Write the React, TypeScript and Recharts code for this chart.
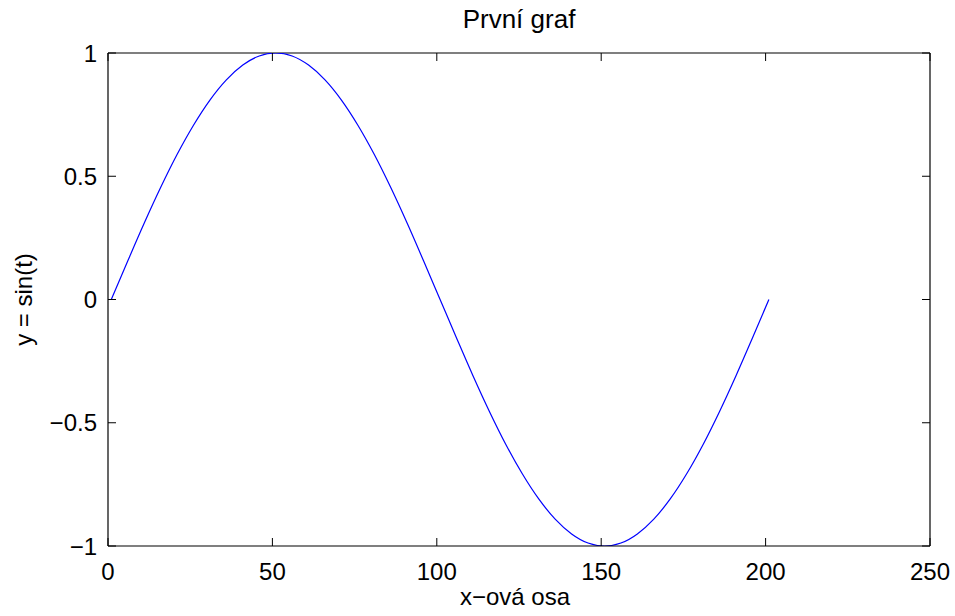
import React from 'react';
import { LineChart, Line, XAxis, YAxis, ReferenceLine } from 'recharts';

// Samples of y = sin(t) taken every 5th index (index 1 … 201)
const indices: number[] = [
  1, 6, 11, 16, 21, 26, 31, 36, 41, 46,
  51, 56, 61, 66, 71, 76, 81, 86, 91, 96,
  101, 106, 111, 116, 121, 126, 131, 136, 141, 146,
  151, 156, 161, 166, 171, 176, 181, 186, 191, 196, 201,
];
const values: number[] = [
  0, 0.156, 0.309, 0.454, 0.588, 0.707, 0.809, 0.891, 0.951, 0.988,
  1, 0.988, 0.951, 0.891, 0.809, 0.707, 0.588, 0.454, 0.309, 0.156,
  0, -0.156, -0.309, -0.454, -0.588, -0.707, -0.809, -0.891, -0.951, -0.988,
  -1, -0.988, -0.951, -0.891, -0.809, -0.707, -0.588, -0.454, -0.309, -0.156, 0,
];

const xTicks: number[] = [0, 50, 100, 150, 200, 250];
const yTicks: number[] = [-1, -0.5, 0, 0.5, 1];
const xDomain: [number, number] = [0, 250];
const yDomain: [number, number] = [-1, 1];

const titleText = 'První graf';
const xLabelText = 'x−ová osa';
const yLabelText = 'y = sin(t)';

const data = indices.map((x, i) => ({ x, y: values[i] }));

// Layout of the plotting box
const W = 955;
const H = 616;
const PLOT = { left: 108, top: 53, right: 930, bottom: 546 };
const Y_AXIS_W = 60;
const X_AXIS_H = 60;
const TICK_LEN = 8;

const FONT = '"Liberation Sans", Arial, Helvetica, sans-serif';
const FONT_SIZE = 24;
const TITLE_SIZE = 26;

const fmt = (v: number) => (v < 0 ? '\u2212' + String(Math.abs(v)) : String(v));

// Bottom tick: label below the box, inward tick marks on bottom and top edges
const XTick = (props: any) => {
  const { x, payload } = props;
  return (
    <g>
      <line x1={x} y1={PLOT.bottom} x2={x} y2={PLOT.bottom - TICK_LEN} stroke="#000" strokeWidth={1} />
      <line x1={x} y1={PLOT.top} x2={x} y2={PLOT.top + TICK_LEN} stroke="#000" strokeWidth={1} />
      <text
        x={x}
        y={PLOT.bottom + 34}
        textAnchor="middle"
        fill="#000"
        fontSize={FONT_SIZE}
        fontFamily={FONT}
      >
        {fmt(payload.value)}
      </text>
    </g>
  );
};

// Left tick: label left of the box, inward tick marks on left and right edges
const YTick = (props: any) => {
  const { y, payload } = props;
  return (
    <g>
      <line x1={PLOT.left} y1={y} x2={PLOT.left + TICK_LEN} y2={y} stroke="#000" strokeWidth={1} />
      <line x1={PLOT.right} y1={y} x2={PLOT.right - TICK_LEN} y2={y} stroke="#000" strokeWidth={1} />
      <text
        x={PLOT.left - 11}
        y={y}
        dy="0.355em"
        textAnchor="end"
        fill="#000"
        fontSize={FONT_SIZE}
        fontFamily={FONT}
      >
        {fmt(payload.value)}
      </text>
    </g>
  );
};

// Axis title below the x axis plus the chart title above the box
const XLabel = (props: any) => {
  const vb = props.viewBox || {};
  const cx = vb.x + vb.width / 2;
  return (
    <g>
      <text x={cx - 4} y={PLOT.bottom + 59} textAnchor="middle" fill="#000" fontSize={FONT_SIZE} fontFamily={FONT}>
        {xLabelText}
      </text>
      <text x={cx} y={PLOT.top - 25} textAnchor="middle" fill="#000" fontSize={TITLE_SIZE} fontFamily={FONT}>
        {titleText}
      </text>
    </g>
  );
};

const YLabel = (props: any) => {
  const vb = props.viewBox || {};
  const cx = 32;
  const cy = vb.y + vb.height / 2;
  return (
    <text
      x={cx}
      y={cy}
      transform={`rotate(-90 ${cx} ${cy})`}
      textAnchor="middle"
      fill="#000"
      fontSize={FONT_SIZE}
      fontFamily={FONT}
    >
      {yLabelText}
    </text>
  );
};

export default function App() {
  return (
    <div style={{ position: 'absolute', left: 0, top: 0, background: '#fff' }}>
      <LineChart
        width={W}
        height={H}
        data={data}
        margin={{
          top: PLOT.top,
          right: W - PLOT.right,
          bottom: H - PLOT.bottom - X_AXIS_H,
          left: PLOT.left - Y_AXIS_W,
        }}
      >
        <XAxis
          dataKey="x"
          type="number"
          domain={xDomain}
          ticks={xTicks}
          allowDataOverflow
          height={X_AXIS_H}
          stroke="#000"
          strokeWidth={1.2}
          tickLine={false}
          tick={<XTick />}
          label={<XLabel />}
        />
        <YAxis
          type="number"
          domain={yDomain}
          ticks={yTicks}
          allowDataOverflow
          width={Y_AXIS_W}
          stroke="#000"
          strokeWidth={1.2}
          tickLine={false}
          tick={<YTick />}
          label={<YLabel />}
        />
        {/* Top and right edges of the box */}
        <ReferenceLine y={yDomain[1]} stroke="#000" strokeWidth={1.2} />
        <ReferenceLine x={xDomain[1]} stroke="#000" strokeWidth={1.2} />
        <Line
          dataKey="y"
          type="monotone"
          stroke="#0000ff"
          strokeWidth={1.2}
          dot={false}
          isAnimationActive={false}
        />
      </LineChart>
    </div>
  );
}
